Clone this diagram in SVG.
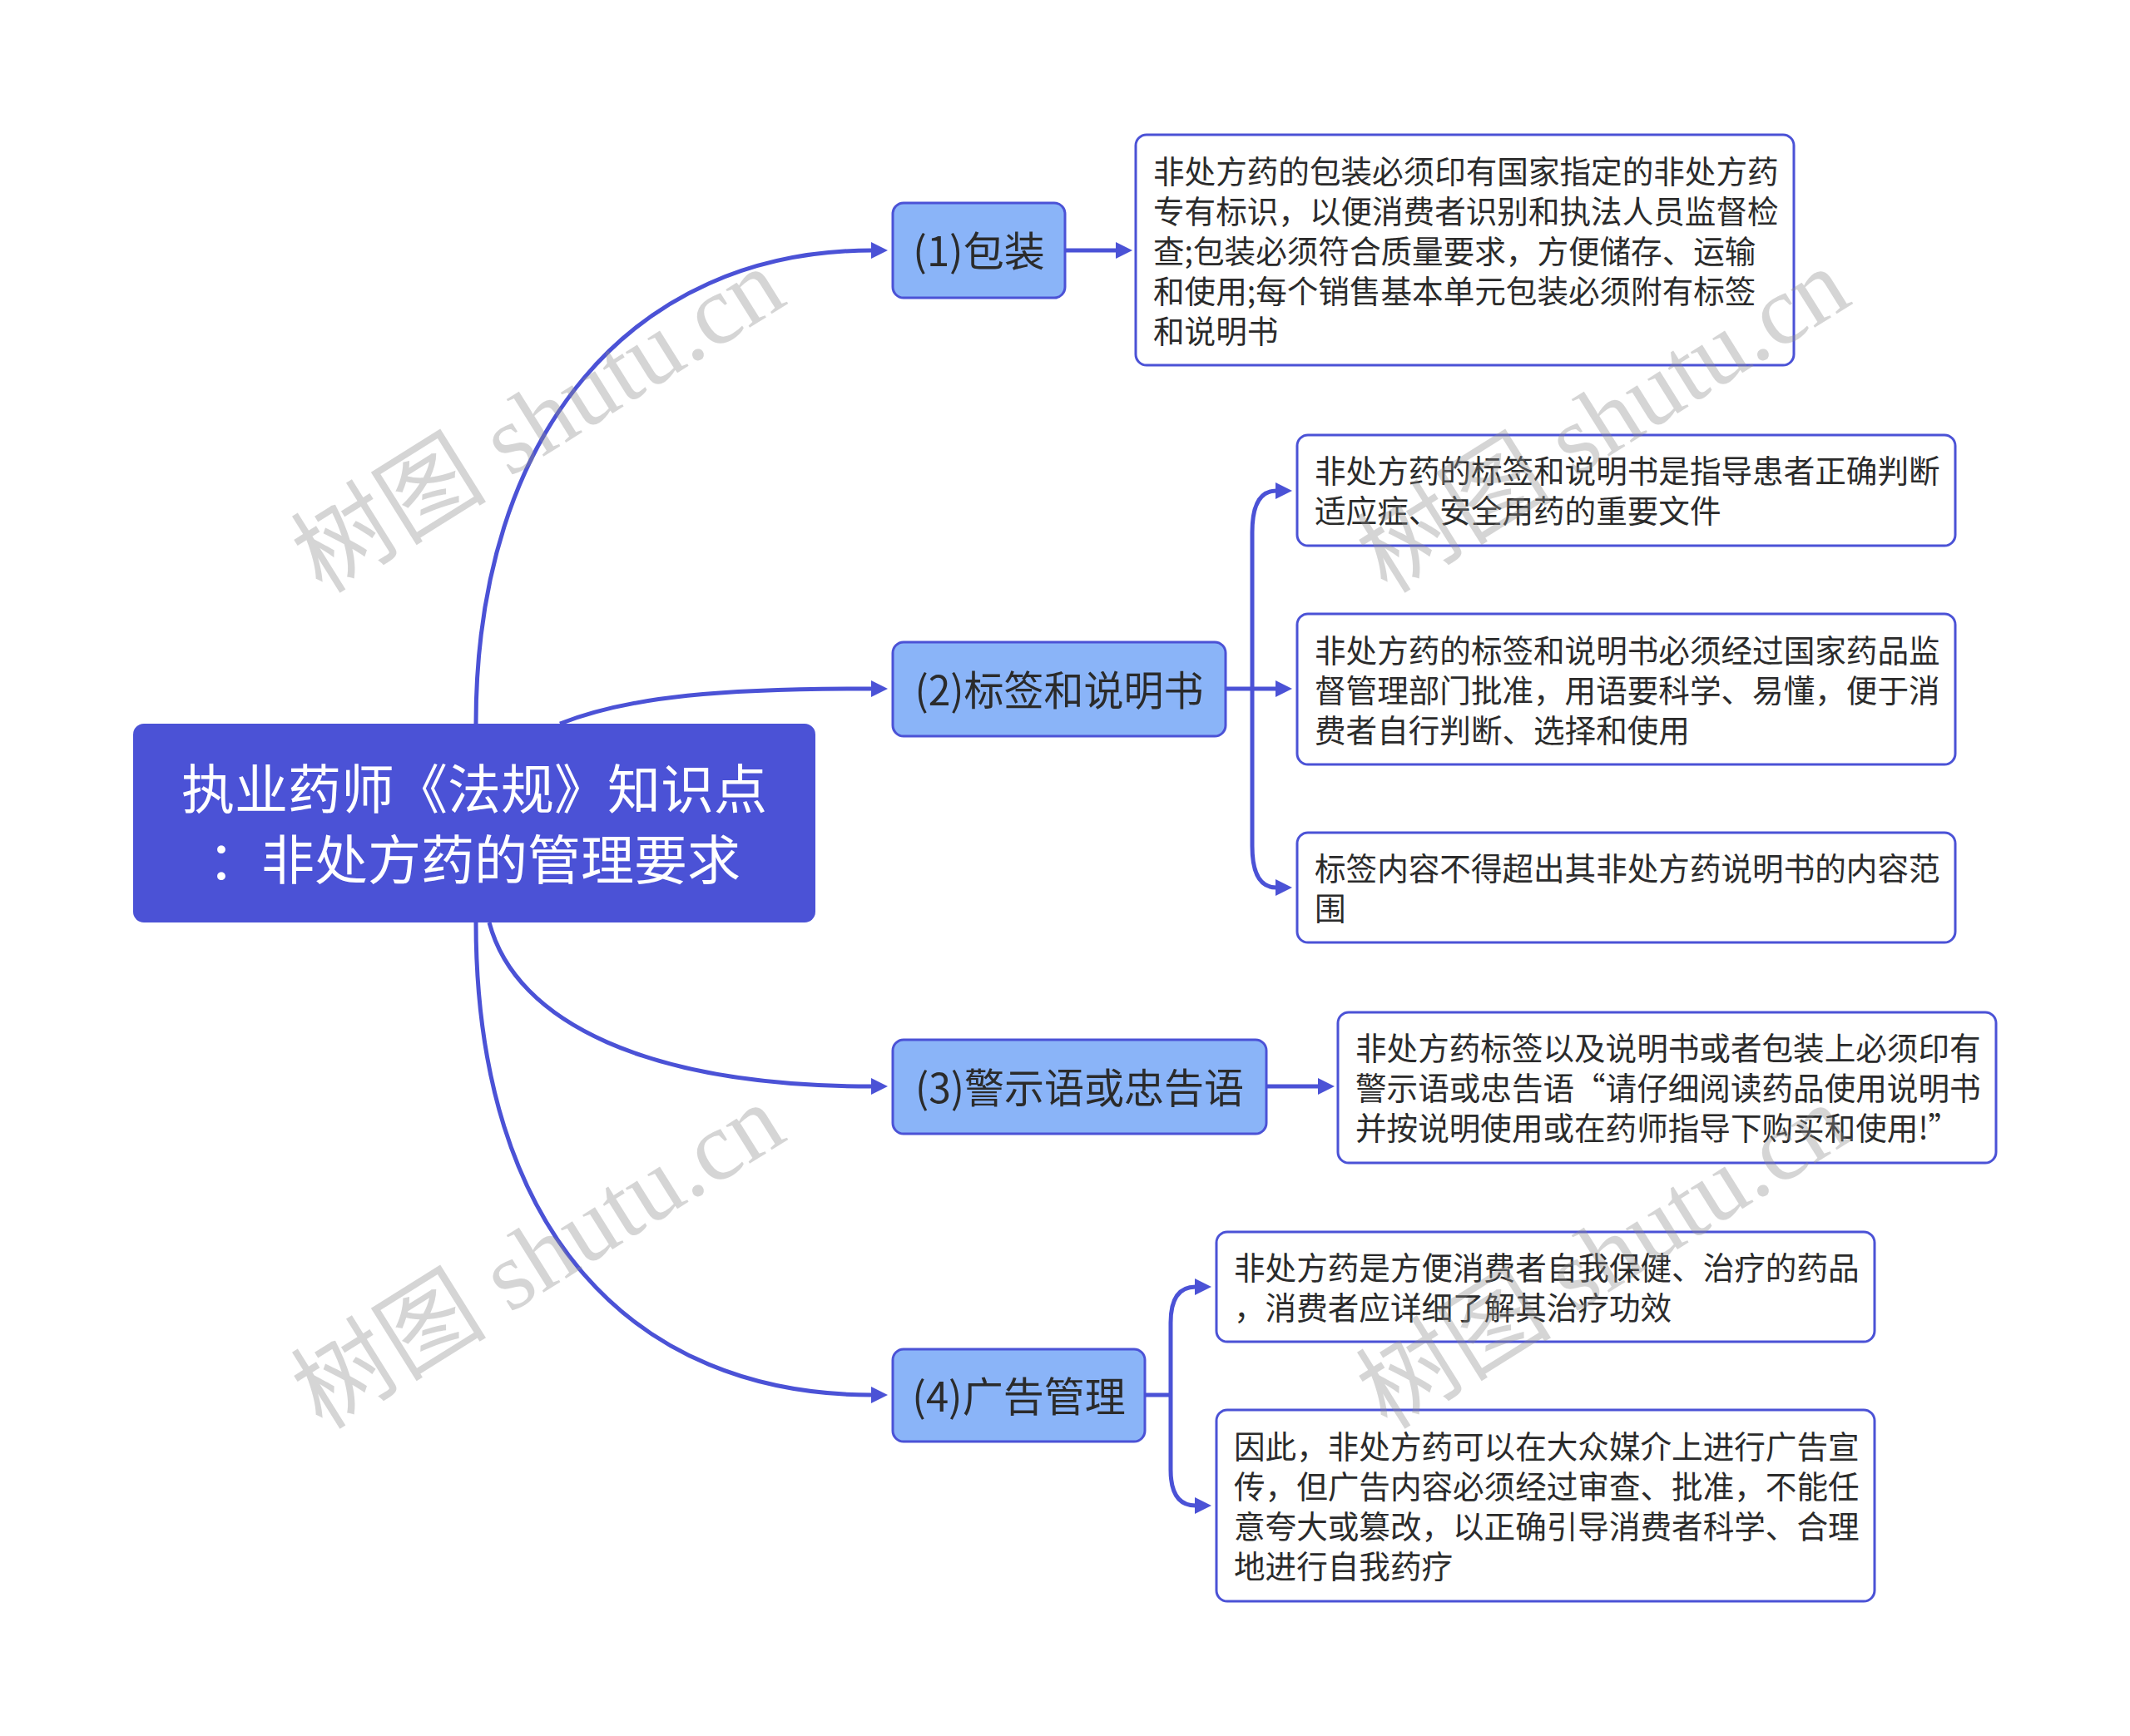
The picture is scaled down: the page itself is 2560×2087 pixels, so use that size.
<svg xmlns="http://www.w3.org/2000/svg" width="2560" height="2087" viewBox="0 0 2560 2087">
<style>
text{font-family:"Noto Sans CJK SC","Noto Sans",sans-serif;}
.root rect{fill:#4B52D6;}
.root text{fill:#ffffff;font-size:64px;text-anchor:middle;dominant-baseline:central;}
.l1 rect{fill:#8AB4F8;stroke:#4B52D6;stroke-width:3;}
.l1 text{fill:#2b2b2b;font-size:49px;text-anchor:middle;dominant-baseline:central;}
.leaf rect{fill:#ffffff;stroke:#4B52D6;stroke-width:3;}
.leaf text{fill:#2b2b2b;font-size:37.6px;dominant-baseline:central;}
.conn path{fill:none;stroke:#4B52D6;stroke-width:5;}
.wm{font-family:"Liberation Serif","Noto Sans CJK SC",serif;font-size:118px;fill:#8a8a8a;fill-opacity:0.36;text-anchor:middle;dominant-baseline:central;}
</style>
<defs>
<marker id="arr" markerUnits="userSpaceOnUse" markerWidth="20" markerHeight="20" viewBox="0 0 20 20" refX="1" refY="10" orient="auto">
<path d="M0,0 L20,10 L0,20 z" fill="#4B52D6"/>
</marker>
</defs>
<rect width="2560" height="2087" fill="#ffffff"/>
<g id="connectors" class="conn">
<path d="M572,870 C572,520 760,301 1048,301" marker-end="url(#arr)"/>
<path d="M673,870 C760,836 870,828 1048,828" marker-end="url(#arr)"/>
<path d="M588,1109 C620,1230 780,1306 1048,1306" marker-end="url(#arr)"/>
<path d="M572,1109 C572,1480 760,1677 1048,1677" marker-end="url(#arr)"/>
<path d="M1280,301 H1342" marker-end="url(#arr)"/>
<path d="M1505,828 V640 Q1505,590 1534,590" marker-end="url(#arr)"/>
<path d="M1473,828 H1534" marker-end="url(#arr)"/>
<path d="M1505,828 V1017 Q1505,1067 1534,1067" marker-end="url(#arr)"/>
<path d="M1522,1306 H1585" marker-end="url(#arr)"/>
<path d="M1376,1677 H1407"/>
<path d="M1407,1677 V1590 Q1407,1547 1437,1547" marker-end="url(#arr)"/>
<path d="M1407,1677 V1767 Q1407,1810 1437,1810" marker-end="url(#arr)"/>
</g>
<g id="root" class="root">
<rect x="160" y="870" width="820" height="239" rx="13"/>
<text x="570" y="944">执业药师《法规》知识点</text>
<text x="570" y="1029">：非处方药的管理要求</text>
</g>
<g id="n1" class="l1">
<rect x="1073" y="244" width="207" height="114" rx="13"/>
<text x="1176.5" y="298">(1)包装</text>
</g>
<g id="n2" class="l1">
<rect x="1073" y="772" width="400" height="113" rx="13"/>
<text x="1273" y="826" textLength="347" lengthAdjust="spacingAndGlyphs">(2)标签和说明书</text>
</g>
<g id="n3" class="l1">
<rect x="1073" y="1250" width="449" height="113" rx="13"/>
<text x="1297.5" y="1304" textLength="395" lengthAdjust="spacingAndGlyphs">(3)警示语或忠告语</text>
</g>
<g id="n4" class="l1">
<rect x="1073" y="1622" width="303" height="111" rx="13"/>
<text x="1224.5" y="1675">(4)广告管理</text>
</g>
<g id="leaf1" class="leaf">
<rect x="1365" y="162" width="791" height="277" rx="13"/>
<text x="1386" y="203">非处方药的包装必须印有国家指定的非处方药</text>
<text x="1386" y="251">专有标识，以便消费者识别和执法人员监督检</text>
<text x="1386" y="299">查;包装必须符合质量要求，方便储存、运输</text>
<text x="1386" y="347">和使用;每个销售基本单元包装必须附有标签</text>
<text x="1386" y="395">和说明书</text>
</g>
<g id="leaf2a" class="leaf">
<rect x="1559" y="523" width="791" height="133" rx="13"/>
<text x="1580" y="563">非处方药的标签和说明书是指导患者正确判断</text>
<text x="1580" y="611">适应症、安全用药的重要文件</text>
</g>
<g id="leaf2b" class="leaf">
<rect x="1559" y="738" width="791" height="181" rx="13"/>
<text x="1580" y="779">非处方药的标签和说明书必须经过国家药品监</text>
<text x="1580" y="827">督管理部门批准，用语要科学、易懂，便于消</text>
<text x="1580" y="875">费者自行判断、选择和使用</text>
</g>
<g id="leaf2c" class="leaf">
<rect x="1559" y="1001" width="791" height="132" rx="13"/>
<text x="1580" y="1041">标签内容不得超出其非处方药说明书的内容范</text>
<text x="1580" y="1089">围</text>
</g>
<g id="leaf3" class="leaf">
<rect x="1608" y="1217" width="791" height="181" rx="13"/>
<text x="1629" y="1257">非处方药标签以及说明书或者包装上必须印有</text>
<text x="1629" y="1305">警示语或忠告语“请仔细阅读药品使用说明书</text>
<text x="1629" y="1353">并按说明使用或在药师指导下购买和使用!”</text>
</g>
<g id="leaf4a" class="leaf">
<rect x="1462" y="1481" width="791" height="132" rx="13"/>
<text x="1483" y="1521">非处方药是方便消费者自我保健、治疗的药品</text>
<text x="1483" y="1569">，消费者应详细了解其治疗功效</text>
</g>
<g id="leaf4b" class="leaf">
<rect x="1462" y="1695" width="791" height="230" rx="13"/>
<text x="1483" y="1736">因此，非处方药可以在大众媒介上进行广告宣</text>
<text x="1483" y="1784">传，但广告内容必须经过审查、批准，不能任</text>
<text x="1483" y="1832">意夸大或篡改，以正确引导消费者科学、合理</text>
<text x="1483" y="1880">地进行自我药疗</text>
</g>
<g id="watermark">
<text class="wm" transform="translate(647,506) rotate(-32)">树图 shutu.cn</text>
<text class="wm" transform="translate(647,1511) rotate(-32)">树图 shutu.cn</text>
<text class="wm" transform="translate(1927,506) rotate(-32)">树图 shutu.cn</text>
<text class="wm" transform="translate(1927,1511) rotate(-32)">树图 shutu.cn</text>
</g>
</svg>
